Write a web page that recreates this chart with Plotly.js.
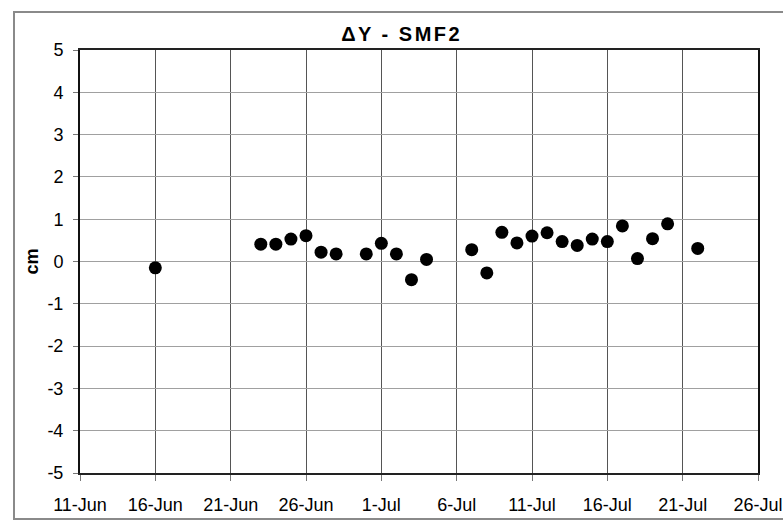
<!DOCTYPE html>
<html>
<head>
<meta charset="utf-8">
<script src="https://cdn.plot.ly/plotly-3.0.1.min.js"></script>
<style>
  html, body { margin: 0; padding: 0; background: #fff; }
  #wrap { position: relative; width: 783px; height: 524px; overflow: hidden; }
  #chart { width: 783px; height: 524px; }
  #frame { position: absolute; left: 13px; top: 11px; width: 800px; height: 505px;
           border: 2px solid #8a8a8a; pointer-events: none; }
  .gtitle { letter-spacing: 2.5px; }
</style>
</head>
<body>
<div id="wrap">
  <div id="chart"></div>
  <div id="frame"></div>
</div>
<script>
// Dates of the measurements
const dates = [
  '2010-06-16',
  '2010-06-23', '2010-06-24', '2010-06-25', '2010-06-26', '2010-06-27', '2010-06-28',
  '2010-06-30', '2010-07-01', '2010-07-02', '2010-07-03', '2010-07-04',
  '2010-07-07', '2010-07-08', '2010-07-09', '2010-07-10', '2010-07-11', '2010-07-12',
  '2010-07-13', '2010-07-14', '2010-07-15', '2010-07-16', '2010-07-17', '2010-07-18',
  '2010-07-19', '2010-07-20', '2010-07-22'
];
// ΔY values in cm
const deltaY = [
  -0.15,
  0.41, 0.41, 0.53, 0.61, 0.22, 0.18,
  0.18, 0.43, 0.18, -0.43, 0.05,
  0.28, -0.27, 0.69, 0.44, 0.60, 0.68,
  0.47, 0.38, 0.53, 0.47, 0.84, 0.07,
  0.54, 0.89, 0.31
];
const xRange = ['2010-06-11', '2010-07-26'];
const yTicks = [-5, -4, -3, -2, -1, 0, 1, 2, 3, 4, 5];
const yTickText = ['-5', '-4', '-3', '-2', '-1', '0', '1', '2', '3', '4', '5'];
const titleText = '\u0394Y - SMF2';
const yTitle = 'cm';

const trace = {
  x: dates,
  y: deltaY,
  type: 'scatter',
  mode: 'markers',
  marker: { color: '#000', size: 13 },
  hoverinfo: 'x+y'
};

const font = 'Arial, "Liberation Sans", sans-serif';

const layout = {
  width: 783, height: 524,
  margin: { l: 80, r: 25, t: 50, b: 51 },
  paper_bgcolor: '#fff',
  plot_bgcolor: '#fff',
  showlegend: false,
  font: { family: font, color: '#000', size: 18 },
  title: {
    text: titleText,
    font: { family: font, size: 20, weight: 'bold', color: '#000' },
    xref: 'container', x: 0.513, xanchor: 'center',
    yref: 'container', y: 0.935, yanchor: 'middle'
  },
  xaxis: {
    type: 'date',
    range: xRange,
    tick0: xRange[0],
    dtick: 5 * 86400000,
    tickformat: '%-d-%b',
    showgrid: true,
    gridcolor: '#555',
    gridwidth: 1,
    ticks: 'outside',
    ticklen: 6,
    tickcolor: '#777',
    ticklabelstandoff: 8,
    showline: true,
    linecolor: '#222',
    linewidth: 2,
    mirror: true,
    zeroline: false,
    tickfont: { family: font, size: 18, color: '#000' }
  },
  yaxis: {
    range: [-5, 5],
    tickvals: yTicks,
    ticktext: yTickText,
    showgrid: true,
    gridcolor: '#a0a0a0',
    gridwidth: 1,
    ticks: 'outside',
    ticklen: 5,
    tickcolor: '#777',
    ticklabelstandoff: 6,
    showline: true,
    linecolor: '#111',
    linewidth: 2,
    mirror: true,
    zeroline: false,
    tickfont: { family: font, size: 18, color: '#000' },
    title: {
      text: yTitle,
      font: { family: font, size: 18, weight: 'bold', color: '#000' },
      standoff: 4
    }
  }
};

Plotly.newPlot('chart', [trace], layout, { displayModeBar: false, staticPlot: true });
</script>
</body>
</html>
